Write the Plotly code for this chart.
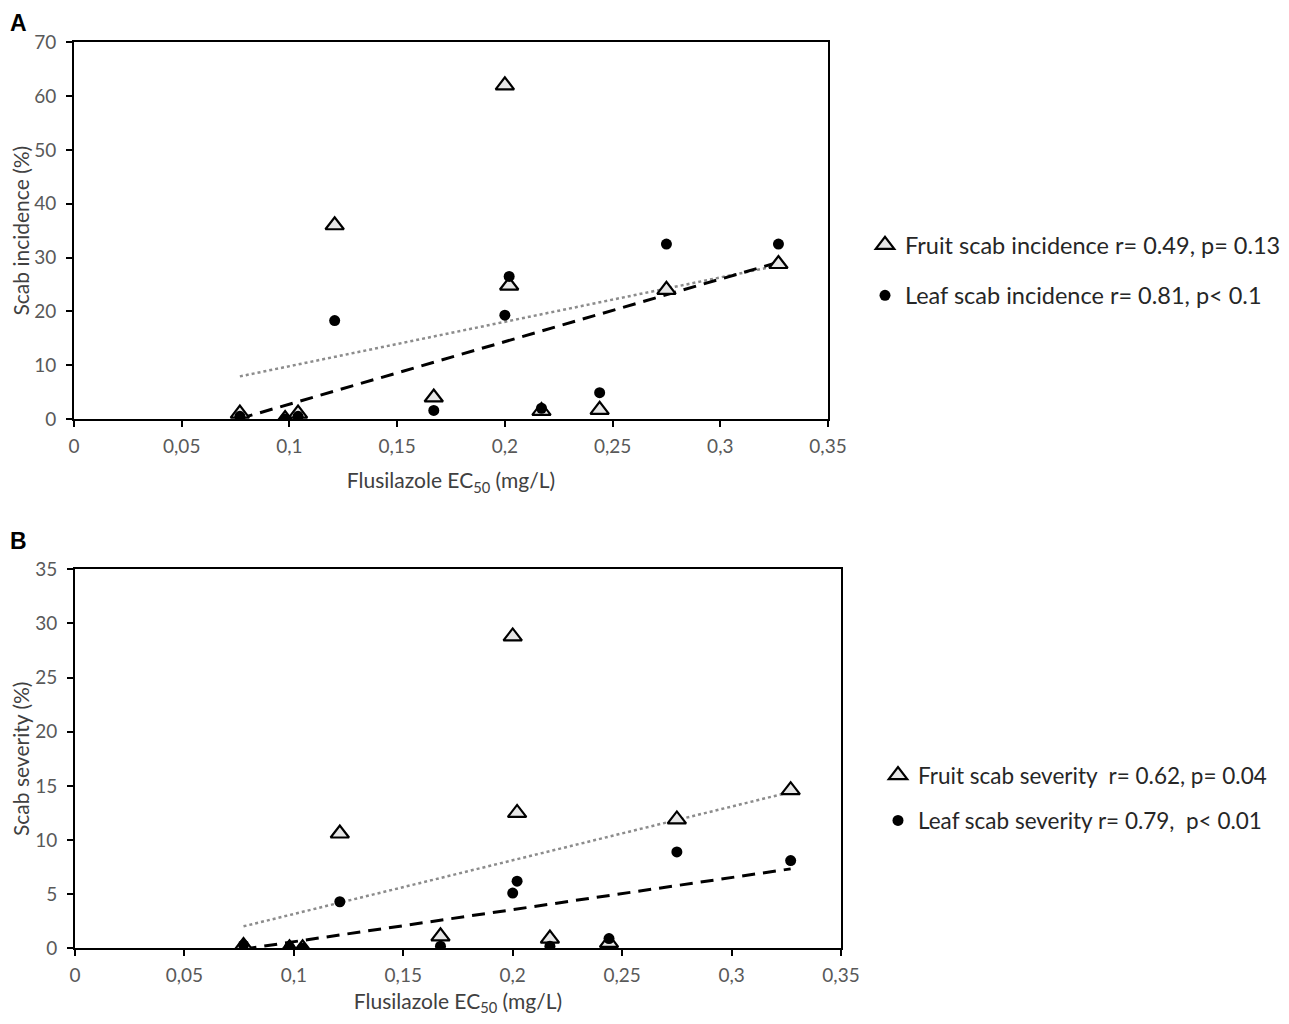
import numpy as np
import plotly.graph_objects as go

# ---- data ----
ec50 = [0.077, 0.098, 0.104, 0.121, 0.167, 0.200, 0.202, 0.217, 0.244, 0.275, 0.327]

fruit_incidence = [1.0, 0.0, 1.0, 36.0, 4.0, 62.0, 24.8, 1.5, 1.7, 24.0, 28.8]
leaf_incidence = [0.5, 0.0, 0.5, 18.3, 1.6, 19.3, 26.5, 2.0, 4.9, 32.5, 32.5]

fruit_severity = [0.2, 0.0, 0.0, 10.6, 1.1, 28.8, 12.5, 0.9, 0.5, 11.9, 14.6]
leaf_severity = [0.3, 0.1, 0.0, 4.3, 0.2, 5.1, 6.2, 0.2, 0.9, 8.9, 8.1]

x_ticks = [0, 0.05, 0.1, 0.15, 0.2, 0.25, 0.3, 0.35]
x_tick_labels = ["0", "0,05", "0,1", "0,15", "0,2", "0,25", "0,3", "0,35"]

names_a = ["Fruit scab incidence r= 0.49, p= 0.13", "Leaf scab incidence r= 0.81, p< 0.1"]
names_b = ["Fruit scab severity\u00a0 r= 0.62, p= 0.04", "Leaf scab severity r= 0.79,\u00a0 p< 0.01"]

FONT = "Lato"
TXT = "#404040"
# the page body keeps its default 8px margin, so the figure is 16px smaller than the window
OFF = 8
W, H = 1289 - 2 * OFF, 1024 - 2 * OFF


def px(x):
    return (x - OFF) / W


def py(y):
    return 1 - (y - OFF) / H


fig = go.Figure()


def add_panel(xa, ya, fruit, leaf, names, legend):
    xs = np.array(ec50)
    xr = np.array([xs.min(), xs.max()])
    # linear trendlines (least squares), as in the original spreadsheet chart
    for vals, dash, color, width in [(fruit, "dot", "#8c8c8c", 2.5), (leaf, "13px,8px", "black", 3)]:
        k, b = np.polyfit(xs, np.array(vals), 1)
        fig.add_trace(go.Scatter(x=xr, y=k * xr + b, mode="lines", xaxis=xa, yaxis=ya,
                                 line=dict(color=color, dash=dash, width=width),
                                 showlegend=False, hoverinfo="skip"))
    fig.add_trace(go.Scatter(x=ec50, y=fruit, mode="markers", name=names[0], xaxis=xa, yaxis=ya,
                             marker=dict(symbol="triangle-up", size=16, color="#e6e6e6",
                                         line=dict(color="black", width=2.2)),
                             legend=legend, legendgroup=legend + "f"))
    fig.add_trace(go.Scatter(x=ec50, y=leaf, mode="markers", name=names[1], xaxis=xa, yaxis=ya,
                             marker=dict(symbol="circle", size=11, color="black"),
                             legend=legend, legendgroup=legend + "l"))


add_panel("x", "y", fruit_incidence, leaf_incidence, names_a, "legend")
add_panel("x2", "y2", fruit_severity, leaf_severity, names_b, "legend2")

axis_common = dict(showline=True, linecolor="black", linewidth=2, mirror=True,
                   ticks="outside", ticklen=6, tickwidth=2, tickcolor="black",
                   showgrid=False, zeroline=False, automargin=False,
                   tickfont=dict(family=FONT, size=19, color="#595959"))


def xtitle(standoff):
    return dict(text="Flusilazole EC<sub>50</sub> (mg/L)", font=dict(family=FONT, size=21, color=TXT),
                standoff=standoff)


fig.update_layout(
    width=W, height=H,
    margin=dict(l=0, r=0, t=0, b=0, autoexpand=False),
    paper_bgcolor="white", plot_bgcolor="white",
    separators=", ",
    font=dict(family=FONT, color=TXT),
    xaxis=dict(domain=[px(74), px(828)], range=[0, 0.35], tickvals=x_ticks, ticktext=x_tick_labels,
               anchor="y", title=xtitle(18), ticklabelstandoff=3, **axis_common),
    yaxis=dict(domain=[py(419), py(42.3)], range=[0, 70], dtick=10, anchor="x",
               title=dict(text="Scab incidence (%)", font=dict(family=FONT, size=21, color=TXT), standoff=18),
               ticklabelstandoff=6, **axis_common),
    xaxis2=dict(domain=[px(75), px(841)], range=[0, 0.35], tickvals=x_ticks, ticktext=x_tick_labels,
                anchor="y2", title=xtitle(22), ticklabelstandoff=3, **axis_common),
    yaxis2=dict(domain=[py(948.3), py(569.3)], range=[0, 35], dtick=5, anchor="x2",
                title=dict(text="Scab severity (%)", font=dict(family=FONT, size=21, color=TXT), standoff=18),
                ticklabelstandoff=6, **axis_common),
    legend=dict(x=px(865), y=py(223), xanchor="left", yanchor="top",
                font=dict(family=FONT, size=23.5, color="#262626"),
                tracegroupgap=17, bgcolor="rgba(0,0,0,0)"),
    legend2=dict(x=px(878), y=py(754), xanchor="left", yanchor="top",
                 font=dict(family=FONT, size=22.5, color="#262626"),
                 tracegroupgap=13, bgcolor="rgba(0,0,0,0)"),
    annotations=[
        dict(text="<b>A</b>", x=0, y=1, xref="paper", yref="paper", xanchor="left", yanchor="top",
             showarrow=False, font=dict(family="Liberation Sans", size=23, color="black")),
        dict(text="<b>B</b>", x=0, y=py(526), xref="paper", yref="paper", xanchor="left", yanchor="top",
             showarrow=False, font=dict(family="Liberation Sans", size=23, color="black")),
    ],
)

fig.write_html("out.html")
